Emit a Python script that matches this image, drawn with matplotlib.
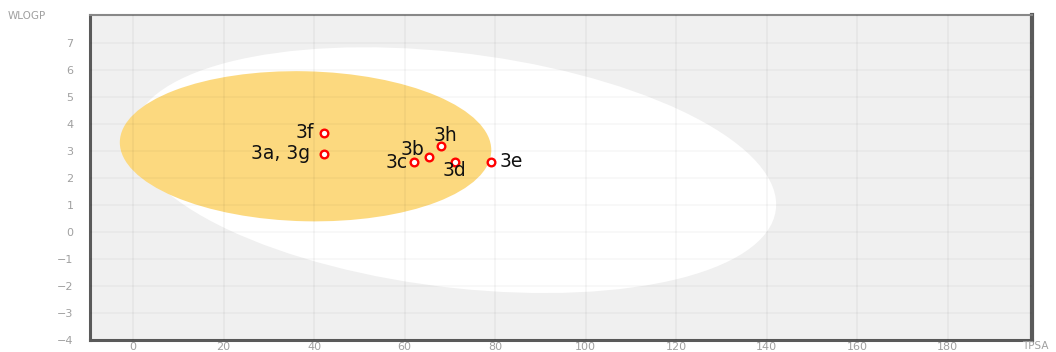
import matplotlib
matplotlib.use("Agg")
import matplotlib.pyplot as plt
from matplotlib.patches import Ellipse

# Data
names = ['3a, 3g', '3b', '3c', '3d', '3e', '3f', '3h']
tpsa = [42.1, 65.3, 62.0, 71.1, 79.0, 42.1, 68.0]
wlogp = [2.90, 2.79, 2.60, 2.60, 2.60, 3.68, 3.20]
x_ticks = [0, 20, 40, 60, 80, 100, 120, 140, 160, 180]
y_ticks = [-4, -3, -2, -1, 0, 1, 2, 3, 4, 5, 6, 7]

# white (HIA) and yolk (BBB) ellipses: center x, center y, width, height, angle
white_ell = (71.051, 2.292, 142.081, 8.740, -1.031)
yolk_ell = (38.117, 3.177, 82.061, 5.557, -0.2)

label_offsets = {
    '3a, 3g': (-13, 0, 'right', 'center'),
    '3b': (-4, 7, 'right', 'center'),
    '3c': (-6, -1, 'right', 'center'),
    '3d': (0, -9, 'center', 'center'),
    '3e': (9, 0, 'left', 'center'),
    '3f': (-10, 0, 'right', 'center'),
    '3h': (5, 10, 'center', 'center'),
}

fig = plt.figure(figsize=(10.56, 3.52), dpi=100)
ax = fig.add_axes([90/1056, 1-340/352, (1032-90)/1056, (340-15)/352])
ax.set_facecolor('#f0f0f0')
ax.set_xlim(-9.5, 198.6)
ax.set_ylim(-4, 8.04)

cx, cy, w, h, a = white_ell
ax.add_patch(Ellipse((cx, cy), w, h, angle=a, facecolor='white', edgecolor='none', zorder=1))
cx, cy, w, h, a = yolk_ell
ax.add_patch(Ellipse((cx, cy), w, h, angle=a, facecolor='#fcd97f', edgecolor='none', zorder=2))

for xv in x_ticks:
    ax.axvline(xv, color='black', alpha=0.035, lw=1.5, zorder=3)
for yv in y_ticks:
    ax.axhline(yv, color='black', alpha=0.03, lw=1.2, zorder=3)

ax.plot(tpsa, wlogp, linestyle='none', marker='o', markersize=5.5,
        markerfacecolor='white', markeredgecolor='#ff0000', markeredgewidth=1.7, zorder=5)

for n, xv, yv in zip(names, tpsa, wlogp):
    dx, dy, ha, va = label_offsets[n]
    ax.annotate(n, (xv, yv), xytext=(dx, dy), textcoords='offset pixels',
                ha=ha, va=va, fontsize=13.5, family='DejaVu Sans', color='#111111', zorder=6)

ax.set_xticks(x_ticks)
ax.set_yticks(y_ticks)
ax.set_xticklabels([str(v) for v in x_ticks])
ax.set_yticklabels([str(v).replace('-', '\u2212') for v in y_ticks])
ax.tick_params(length=0, labelsize=8, labelcolor='#a0a0a0')
for lab in ax.get_xticklabels() + ax.get_yticklabels():
    lab.set_family('DejaVu Sans')
ax.tick_params(axis='y', pad=12)
ax.tick_params(axis='x', pad=1.5)

for s in ax.spines.values():
    s.set_color('#5a5a5a')
    s.set_linewidth(2.2)
ax.spines['top'].set_color('#888888')
ax.spines['top'].set_linewidth(1.5)
ax.spines['right'].set_linewidth(3)

fig.text(8/1056, 1-16/352, 'WLOGP', fontsize=7.5, color='#a0a0a0', family='DejaVu Sans', ha='left', va='center')
fig.text(1049/1056, 1-346/352, 'TPSA', fontsize=7.5, color='#a0a0a0', family='DejaVu Sans', ha='right', va='center')

fig.savefig('out.png', dpi=100)
